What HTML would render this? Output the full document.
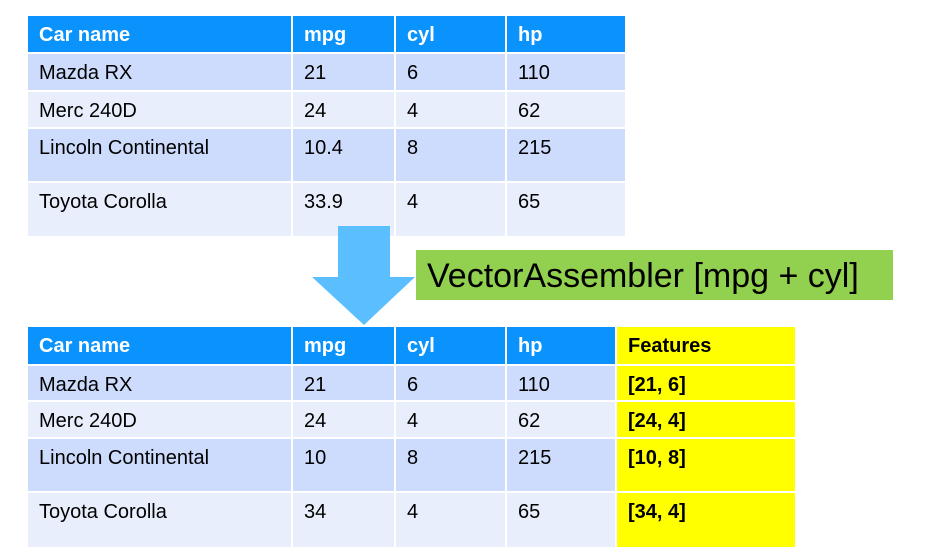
<!DOCTYPE html>
<html><head><meta charset="utf-8"><style>
body{margin:0;width:947px;height:559px;background:#fff;position:relative;overflow:hidden;font-family:"Liberation Sans",Arial,sans-serif;}
table{position:absolute;left:26px;border-collapse:separate;border-spacing:2px;table-layout:fixed;font-size:20px;}
td{padding:0 0 0 11px;vertical-align:top;line-height:24px;color:#000;}
td div{padding-top:7px;}
tr.h td{background:#0a93fc;color:#fff;font-weight:bold;}
tr.d td{background:#cddcfc;}
tr.l td{background:#e8eefc;}
td.y{background:#ffff00 !important;font-weight:bold;color:#000 !important;}
</style></head><body>
<table style="top:14px;width:601px">
<colgroup><col style="width:263px"><col style="width:101px"><col style="width:109px"><col style="width:118px"></colgroup>
<tr class="h" style="height:36px"><td><div>Car name</div></td><td><div>mpg</div></td><td><div>cyl</div></td><td><div>hp</div></td></tr>
<tr class="d" style="height:36px"><td><div>Mazda RX</div></td><td><div>21</div></td><td><div>6</div></td><td><div>110</div></td></tr>
<tr class="l" style="height:35px"><td><div>Merc 240D</div></td><td><div>24</div></td><td><div>4</div></td><td><div>62</div></td></tr>
<tr class="d" style="height:52px"><td><div>Lincoln Continental</div></td><td><div>10.4</div></td><td><div>8</div></td><td><div>215</div></td></tr>
<tr class="l" style="height:53px"><td><div>Toyota Corolla</div></td><td><div>33.9</div></td><td><div>4</div></td><td><div>65</div></td></tr>
</table>
<svg style="position:absolute;left:0;top:0" width="947" height="559">
<polygon points="338,226 390,226 390,277 415,277 364,325 312,277 338,277" fill="#5bbfff"/>
</svg>
<div style="position:absolute;left:416px;top:250px;width:477px;height:50px;background:#92d050;font-size:34px;line-height:52px;padding-left:11px;box-sizing:border-box;white-space:nowrap;">VectorAssembler [mpg + cyl]</div>
<table style="top:325px;width:771px">
<colgroup><col style="width:263px"><col style="width:101px"><col style="width:109px"><col style="width:108px"><col style="width:178px"></colgroup>
<tr class="h" style="height:37px"><td><div>Car name</div></td><td><div>mpg</div></td><td><div>cyl</div></td><td><div>hp</div></td><td class="y"><div>Features</div></td></tr>
<tr class="d" style="height:34px"><td><div>Mazda RX</div></td><td><div>21</div></td><td><div>6</div></td><td><div>110</div></td><td class="y"><div>[21, 6]</div></td></tr>
<tr class="l" style="height:35px"><td><div>Merc 240D</div></td><td><div>24</div></td><td><div>4</div></td><td><div>62</div></td><td class="y"><div>[24, 4]</div></td></tr>
<tr class="d" style="height:52px"><td><div>Lincoln Continental</div></td><td><div>10</div></td><td><div>8</div></td><td><div>215</div></td><td class="y"><div>[10, 8]</div></td></tr>
<tr class="l" style="height:54px"><td><div>Toyota Corolla</div></td><td><div>34</div></td><td><div>4</div></td><td><div>65</div></td><td class="y"><div>[34, 4]</div></td></tr>
</table>
</body></html>
